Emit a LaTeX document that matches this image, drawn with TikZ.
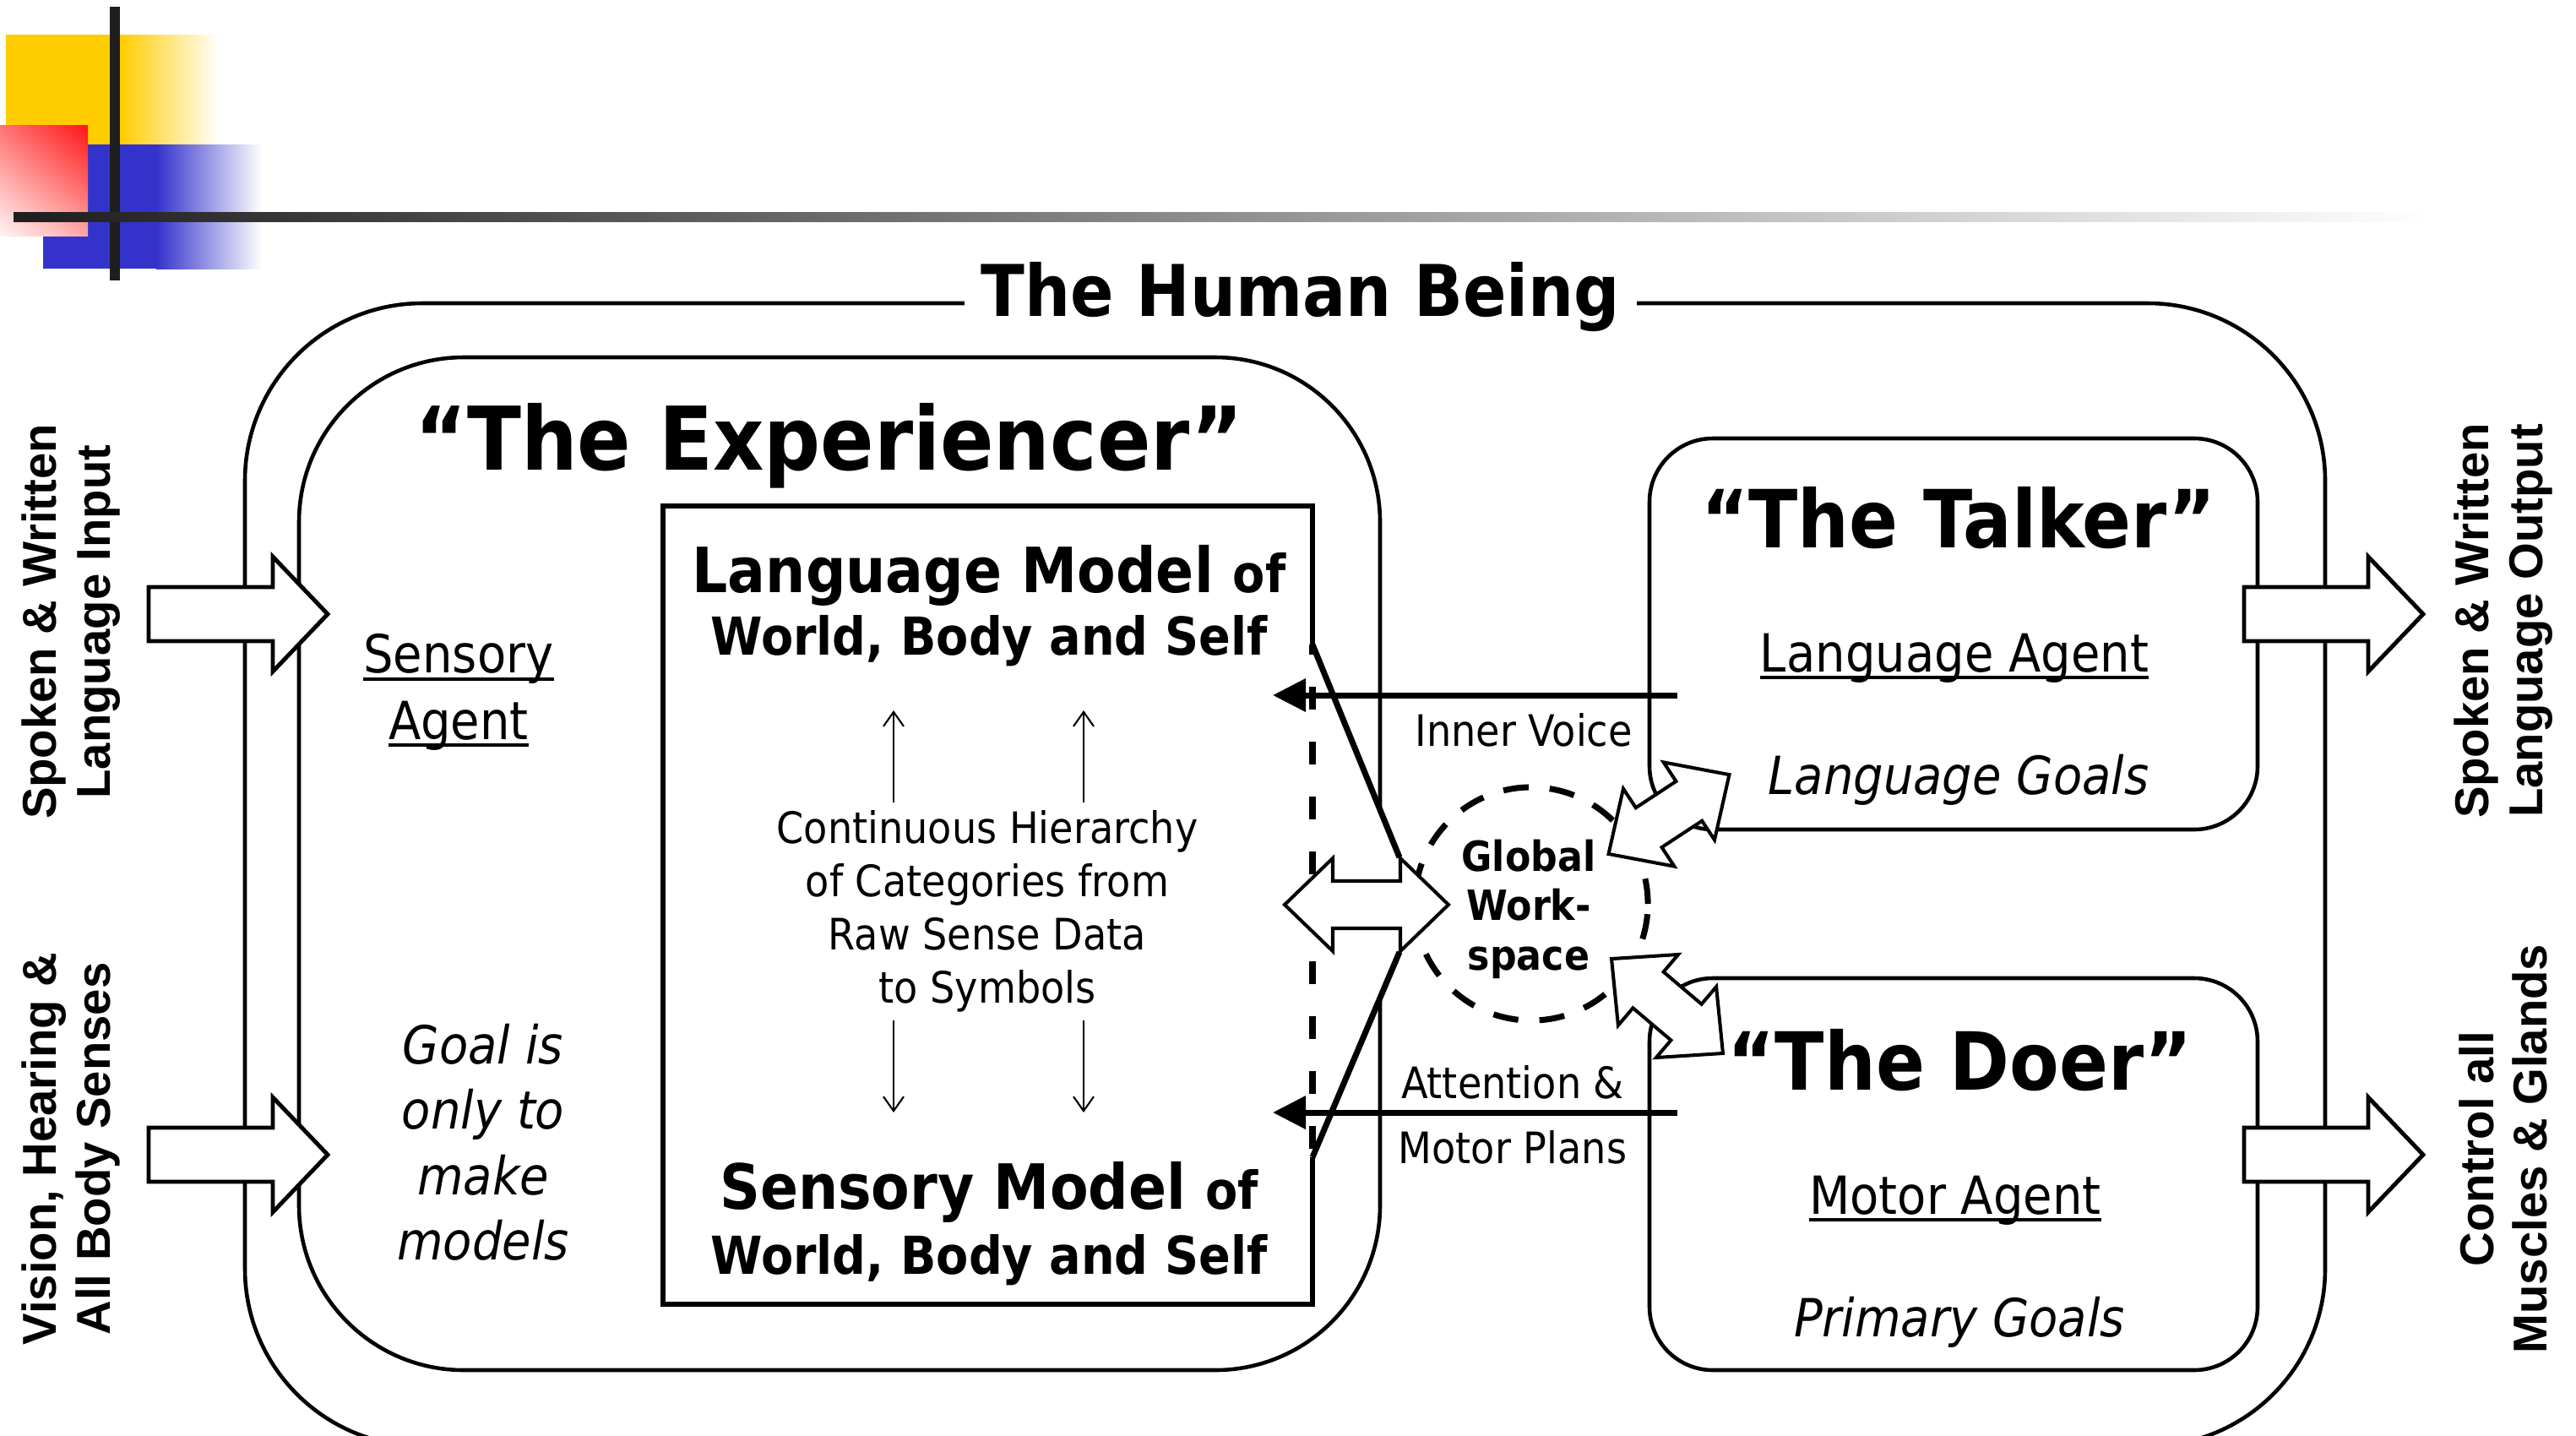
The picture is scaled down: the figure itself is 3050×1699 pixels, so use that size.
\documentclass[tikz,border=0pt]{standalone}
\usepackage{fontspec}
\setmainfont{DejaVu Sans}[FakeStretch=0.9]
\newfontfamily\sidefont{Liberation Sans}
\usetikzlibrary{arrows.meta,shadings}

\definecolor{decoyellow}{RGB}{255,204,0}
\definecolor{decoblue}{RGB}{51,51,204}
\definecolor{bardark}{RGB}{30,30,30}

\newcommand{\fs}[2]{\fontsize{#1}{#2}\selectfont}
\newcommand{\ulined}[1]{\setbox0\hbox{#1}\rlap{\rule[-2.6pt]{\wd0}{1.1pt}}\box0}

\begin{document}
\begin{tikzpicture}[x=0.01cm, y=-0.01cm,
    outerbox/.style={line width=1.3pt, rounded corners=2.1cm},
    expbox/.style={line width=1.3pt, rounded corners=1.95cm},
    agentbox/.style={line width=1.3pt, rounded corners=0.75cm},
    modelbox/.style={line width=1.8pt},
    funnel/.style={line width=2pt},
    dashedge/.style={line width=2.1pt, dash pattern=on 0.27cm off 0.38cm, dash phase=0.15cm},
    wsdash/.style={line width=2pt, dash pattern=on 0.3cm off 0.25cm},
    flowline/.style={line width=2pt, -{Triangle[length=3.9mm, width=3.8mm]}},
    thinarrow/.style={line width=0.6pt, -{Straight Barb[length=1.7mm, width=2.4mm]}},
    dblstyle/.style={line width=1.15pt, fill=white},
    blockstyle/.style={line width=1.4pt, fill=white},
    txt/.style={inner sep=0pt, anchor=base, align=center},
    sidetxt/.style={inner sep=0pt, anchor=center, align=center, rotate=90, font=\sidefont\bfseries\fs{16}{18}},
    pics/dblarrow/.style={code={
      \draw[dblstyle] (-#1/2,0) -- ++(57,-55) -- ++(0,27) -- (#1/2-57,-28) -- ++(0,-27) -- (#1/2,0)
        -- ++(-57,55) -- ++(0,-27) -- (-#1/2+57,28) -- ++(0,27) -- cycle;
    }},
    pics/blockarrow/.style={code={
      \draw[blockstyle] (0,-32) -- (147,-32) -- (147,-68) -- (212,0) -- (147,68) -- (147,32) -- (0,32) -- cycle;
    }}
  ]
    \useasboundingbox (0,0) rectangle (3050,1699);
    \clip (0,0) rectangle (3050,1699);

    % corner decoration
    \fill[decoyellow] (7,41) rectangle (142,171);
    \shade[left color=decoyellow, right color=white] (142,41) rectangle (260,171);
    \fill[decoblue] (51,171) rectangle (185,318);
    \shade[left color=decoblue, right color=white] (185,171) rectangle (310,318);
    \shade[upper left=red!55, upper right=red!92, lower left=red!4, lower right=red!35] (0,148) rectangle (104,279);
    \fill[bardark] (130,8) rectangle (142,332);
    \shade[left color=bardark, right color=white] (16,251) rectangle (2880,262);

    % boxes
    \draw[outerbox] (290,359) rectangle (2753,1712);
    \node[txt, fill=white, inner xsep=0.2cm, inner ysep=2pt, font=\bfseries\fs{24}{29}] (human) at (1540,374) {The Human Being};
    \draw[expbox] (354,423) rectangle (1634,1622);
    \draw[agentbox] (1953,519) rectangle (2673,982);
    \draw[agentbox] (1953,1158) rectangle (2673,1622);

    % inner model box, open on the right
    \coordinate (mtop) at (1554,763);
    \coordinate (mbot) at (1554,1370);
    \coordinate (htop) at (1657,1015);
    \coordinate (hbot) at (1657,1127);
    \draw[modelbox] (mtop) -- (1554,599) -- (785,599) -- (785,1544) -- (1554,1544) -- (mbot);
    \fill[white] (mtop) -- (htop) -- (hbot) -- (mbot) -- cycle;
    \draw[dashedge] (mtop) -- (mbot);
    \draw[funnel] (mtop) -- (htop);
    \draw[funnel] (hbot) -- (mbot);

    % global workspace
    \draw[wsdash] (1813,1070) circle (1.38cm);
    \pic at (1618,1071) {dblarrow=194};
    \pic[rotate=33.3] at (1976,964) {dblarrow=171};
    \pic[rotate=-40.3] at (1974,1191) {dblarrow=173};

    \coordinate (ivstart) at (1986,823);
    \coordinate (ivend) at (1507,823);
    \coordinate (amstart) at (1986,1317);
    \coordinate (amend) at (1507,1317);
    \draw[flowline] (ivstart) -- (ivend);
    \draw[flowline] (amstart) -- (amend);

    % inputs and outputs
    \pic at (176,727) {blockarrow};
    \pic at (176,1367) {blockarrow};
    \pic at (2657,727) {blockarrow};
    \pic at (2657,1367) {blockarrow};

    % hierarchy arrows
    \draw[thinarrow] (1058,950) -- (1058,841);
    \draw[thinarrow] (1283,950) -- (1283,841);
    \draw[thinarrow] (1058,1208) -- (1058,1317);
    \draw[thinarrow] (1283,1208) -- (1283,1317);

    % texts (multi-line nodes sit on their last line)
    \node[txt, font=\bfseries\fs{29.6}{36}] (exptitle) at (982,556) {“The Experiencer”};
    \node[txt, font=\bfseries\fs{27}{32}] (talktitle) at (2319,648) {“The Talker”};
    \node[txt, font=\bfseries\fs{27}{32}] (doertitle) at (2321,1290) {“The Doer”};

    \node[txt, font=\bfseries] (langmodel) at (1171,701) {\fs{21}{25}Language Model \fs{17.6}{21}of};
    \node[txt, font=\bfseries\fs{17.6}{21}] (langworld) at (1171,775) {World, Body and Self};
    \node[txt, font=\bfseries] (sensmodel) at (1171,1431) {\fs{21}{25}Sensory Model \fs{17.6}{21}of};
    \node[txt, font=\bfseries\fs{17.6}{21}] (sensworld) at (1171,1508) {World, Body and Self};
    \node[txt, font=\fs{14.6}{17.9}] (hier) at (1169,1187) {Continuous Hierarchy\\of Categories from\\Raw Sense Data\\to Symbols};

    \node[txt, font=\fs{17.7}{22.2}] (sensagent) at (543,875) {\ulined{Sensory}\\\ulined{Agent}};
    \node[txt, font=\itshape\fs{17.7}{21.9}] (goal) at (572,1491) {Goal is\\only to\\make\\models};

    \node[txt, font=\fs{17.7}{22}] (langagent) at (2314,795) {\ulined{Language Agent}};
    \node[txt, font=\itshape\fs{17.7}{22}] (langgoals) at (2319,940) {Language Goals};
    \node[txt, font=\fs{17.7}{22}] (motoragent) at (2315,1437) {\ulined{Motor Agent}};
    \node[txt, font=\itshape\fs{17.7}{22}] (primgoals) at (2320,1582) {Primary Goals};

    \node[txt, font=\bfseries\fs{14}{16.5}] (gw) at (1810,1148) {Global\\Work-\\space};
    \node[txt, font=\fs{14.6}{18}] (innervoice) at (1804,883) {Inner Voice};
    \node[txt, font=\fs{14.6}{21.9}] (attention) at (1791,1377) {Attention \&\\Motor Plans};

    \node[sidetxt] (langin) at (84,736) {Spoken \& Written\\Language Input};
    \node[sidetxt] (sensesin) at (84,1360) {Vision, Hearing \&\\All Body Senses};
    \node[sidetxt] (langout) at (2964,735) {Spoken \& Written\\Language Output};
    \node[sidetxt] (musclesout) at (2964,1360) {Control all\\Muscles \& Glands};
\end{tikzpicture}
\end{document}
